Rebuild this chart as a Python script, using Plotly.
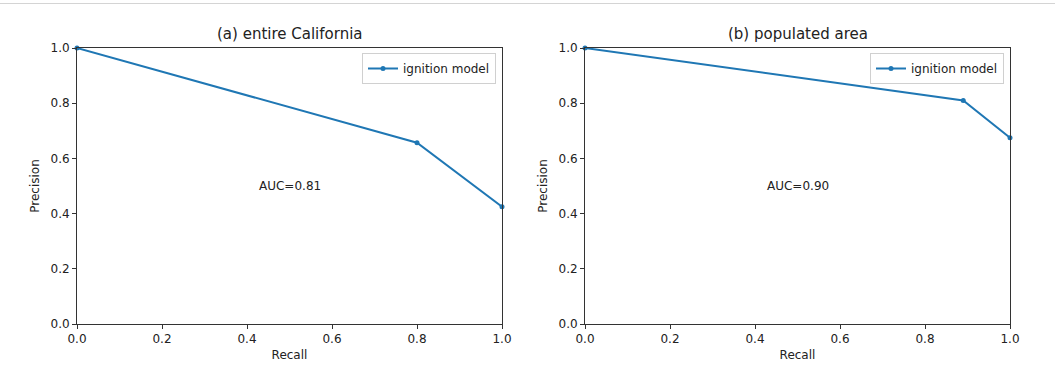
import plotly.graph_objects as go

recall_a = [0.0, 0.8, 1.0]
precision_a = [1.0, 0.657, 0.425]
recall_b = [0.0, 0.89, 1.0]
precision_b = [1.0, 0.81, 0.675]
titles = ["(a) entire California", "(b) populated area"]
auc_labels = ["AUC=0.81", "AUC=0.90"]
tick_vals = [0.0, 0.2, 0.4, 0.6, 0.8, 1.0]
tick_text = ["0.0", "0.2", "0.4", "0.6", "0.8", "1.0"]

W, H = 1055, 368
L, R, T, B = 77, 45, 48, 44
pw = W - L - R
ph = H - T - B
color = "#1f77b4"
font = "DejaVu Sans"

fig = go.Figure()
fig.add_trace(go.Scatter(x=recall_a, y=precision_a, mode="lines+markers", name="ignition model",
                         line=dict(color=color, width=2), marker=dict(size=5, color=color),
                         xaxis="x", yaxis="y", legend="legend", cliponaxis=False))
fig.add_trace(go.Scatter(x=recall_b, y=precision_b, mode="lines+markers", name="ignition model",
                         line=dict(color=color, width=2), marker=dict(size=5, color=color),
                         xaxis="x2", yaxis="y2", legend="legend2", cliponaxis=False))

d1 = [0, 425 / pw]
d2 = [508 / pw, 1]
axcommon = dict(range=[0, 1], tickvals=tick_vals, ticktext=tick_text, showgrid=False, zeroline=False,
                showline=True, linecolor="#333", linewidth=1, mirror=True, ticks="outside",
                ticklen=4, tickcolor="#333", tickfont=dict(size=12, color="#222", family=font),
                automargin=False)
fig.update_layout(
    width=W, height=H, margin=dict(l=L, r=R, t=T, b=B, autoexpand=False),
    paper_bgcolor="white", plot_bgcolor="white",
    font=dict(family=font, color="#222"),
    xaxis=dict(domain=d1, anchor="y", title=dict(text="Recall", font=dict(size=12), standoff=5), **axcommon),
    yaxis=dict(domain=[0, 1], anchor="x", title=dict(text="Precision", font=dict(size=12), standoff=8), **axcommon),
    xaxis2=dict(domain=d2, anchor="y2", title=dict(text="Recall", font=dict(size=12), standoff=5), **axcommon),
    yaxis2=dict(domain=[0, 1], anchor="x2", title=dict(text="Precision", font=dict(size=12), standoff=8), **axcommon),
    legend=dict(x=d1[1] - 6 / pw, y=1 - 5 / ph, xanchor="right", yanchor="top",
                bordercolor="#d0d0d0", borderwidth=1, bgcolor="white",
                font=dict(size=12, family=font, color="#222"), itemwidth=30),
    legend2=dict(x=1 - 6 / pw, y=1 - 5 / ph, xanchor="right", yanchor="top",
                 bordercolor="#d0d0d0", borderwidth=1, bgcolor="white",
                 font=dict(size=12, family=font, color="#222"), itemwidth=30),
    showlegend=True,
)

for i, (xr, yr) in enumerate([("x", "y"), ("x2", "y2")]):
    fig.add_annotation(x=0.5, y=0.5, xref=xr, yref=yr, text=auc_labels[i], showarrow=False,
                       font=dict(size=12, family=font, color="#222"))
    dom = d1 if i == 0 else d2
    fig.add_annotation(x=(dom[0] + dom[1]) / 2, y=1, xref="paper", yref="paper",
                       xanchor="center", yanchor="bottom",
                       yshift=3, text=titles[i], showarrow=False,
                       font=dict(size=15, family=font, color="#222"))

fig.add_shape(type="line", xref="paper", yref="paper", x0=-L / pw, x1=(W - L) / pw,
              y0=(ph + T - 3.5) / ph, y1=(ph + T - 3.5) / ph, line=dict(color="#d4d4d4", width=1))

fig.write_html("out.html")
